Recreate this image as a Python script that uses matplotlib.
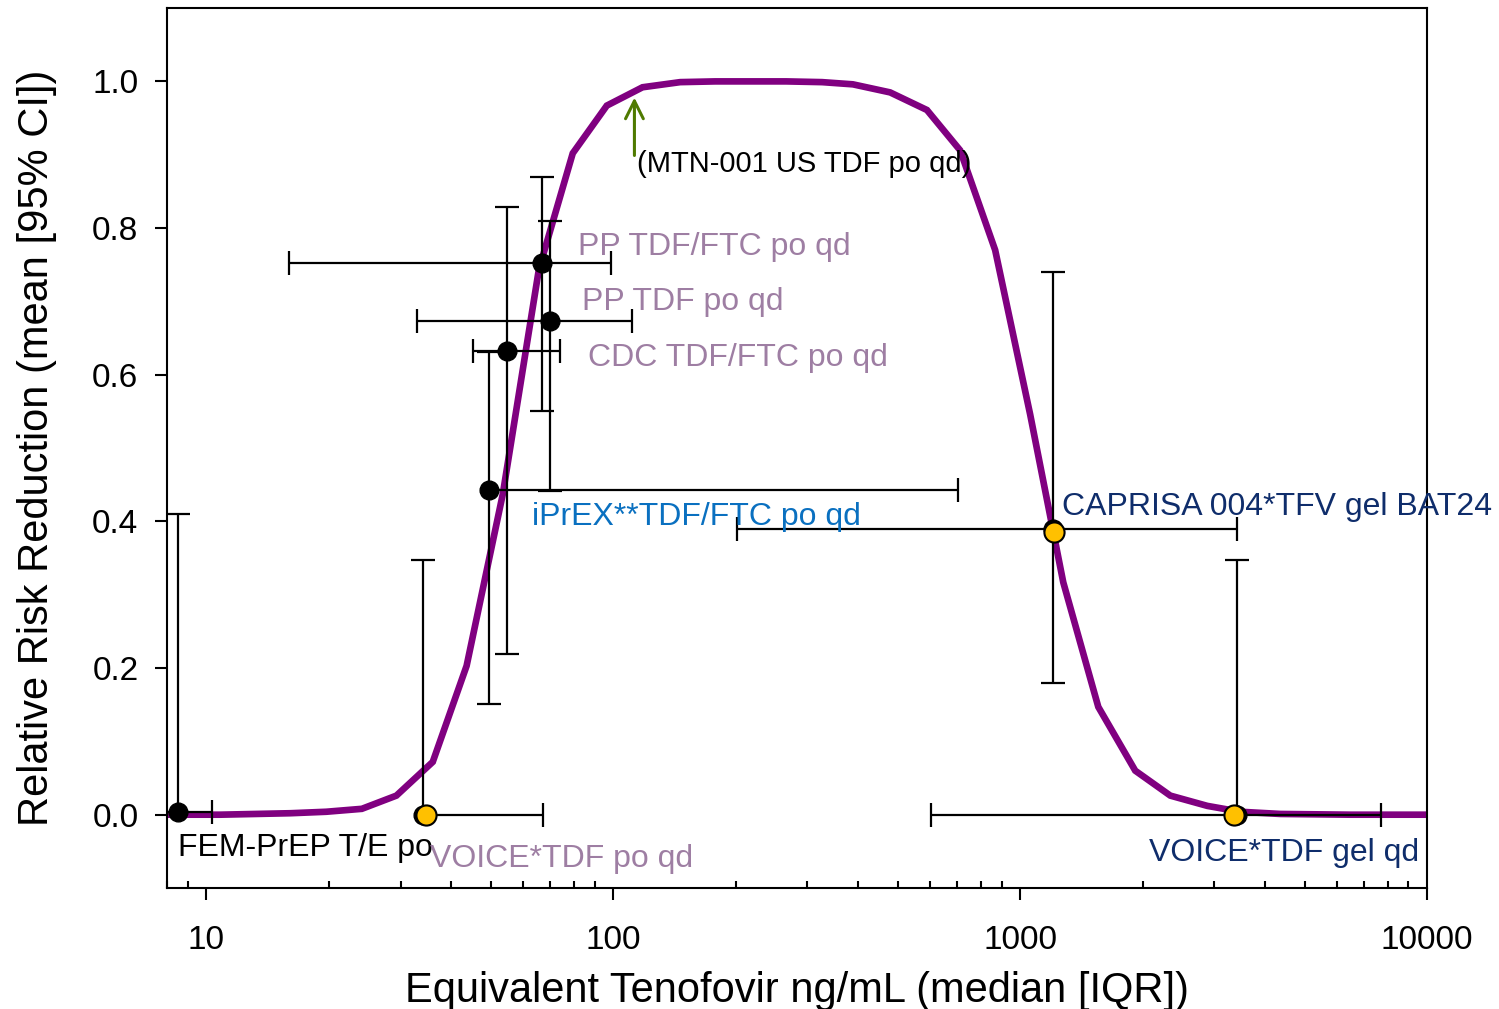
"""
plot.py

Reduccion de riesgo relativo frente a tenofovir equivalente (ng/mL),
curva ajustada + estudios clinicos (mediana [IQR], media [IC 95%]).
"""

import matplotlib
matplotlib.use("Agg")
import matplotlib.pyplot as plt
from matplotlib.ticker import LogLocator, NullFormatter

# ------------------------------------------------------------------
# Datos
# ------------------------------------------------------------------
CURVE_X = [8.0, 8.8, 10.8, 13.2, 16.1, 19.7, 24.1, 29.3, 36.0, 43.6, 53.5,
           65.6, 79.5, 96.4, 118, 146, 178, 218, 266, 326, 388, 479, 590,
           712, 868, 1058, 1276, 1556, 1918, 2339, 2884, 3477, 4362, 6483,
           10000]
CURVE_Y = [0.0, 0.0, 0.0, 0.001, 0.002, 0.004, 0.008, 0.026, 0.072, 0.203,
           0.437, 0.743, 0.902, 0.967, 0.992, 0.999, 1.0, 1.0, 1.0, 0.999,
           0.996, 0.985, 0.961, 0.906, 0.770, 0.546, 0.317, 0.147, 0.060,
           0.026, 0.012, 0.004, 0.001, 0.0, 0.0]

STUDIES = ["FEM-PrEP", "VOICE po", "iPrEX", "CDC", "PP TDF", "PP TDF/FTC",
           "CAPRISA", "VOICE gel"]
STUDY_X = [8.53, 34.0, 49.4, 54.7, 69.8, 66.7, 1206, 3418]
STUDY_Y = [0.003, 0.0, 0.443, 0.633, 0.673, 0.752, 0.390, 0.0]
IQR_LO = [7.5, 34.0, 49.4, 45.1, 32.9, 16.0, 201, 604]
IQR_HI = [10.35, 67.1, 704, 73.9, 111.1, 98.6, 3418, 7727]
CI_LO = [0.003, 0.0, 0.151, 0.219, 0.441, 0.550, 0.180, 0.0]
CI_HI = [0.41, 0.348, 0.631, 0.829, 0.810, 0.869, 0.740, 0.348]
# extremos que llevan tope
CAP_IQR_LO = [False, False, False, True, True, True, True, True]
CAP_IQR_HI = [True, True, True, True, True, True, True, True]
CAP_CI_LO = [False, False, True, True, True, True, True, False]
CAP_CI_HI = [True, True, True, True, True, True, True, True]

# puntos amarillos (VOICE po, CAPRISA, VOICE gel)
HIGHLIGHT_X = [34.6, 1212, 3361]
HIGHLIGHT_Y = [-0.001, 0.385, -0.001]

LABELS = ["(MTN-001 US TDF po qd)", "PP TDF/FTC po qd", "PP TDF po qd",
          "CDC TDF/FTC po qd", "iPrEX**TDF/FTC po qd",
          "CAPRISA 004*TFV gel BAT24", "VOICE*TDF gel qd",
          "FEM-PrEP T/E po", "VOICE*TDF po qd"]
LABEL_X = [114.6, 82.1, 83.9, 86.9, 63.2, 1268, 2074, 8.53, 35.5]
LABEL_Y = [0.887, 0.774, 0.699, 0.623, 0.406, 0.419, -0.052, -0.046, -0.060]
LABEL_SIZES = [21, 23, 23, 23, 23, 23, 23, 23, 23]
MAUVE = "#9e7ea3"
NAVY = "#0f2d6b"
LABEL_COLORS = ["black", MAUVE, MAUVE, MAUVE, "#0a70c0", NAVY, NAVY,
                "black", MAUVE]

# flecha MTN-001
ARROW_X = 112.7
ARROW_Y_TAIL = 0.899
ARROW_Y_TIP = 0.978

X_TICKS = [10, 100, 1000, 10000]
X_TICK_LABELS = ["10", "100", "1000", "10000"]
Y_TICKS = [0.0, 0.2, 0.4, 0.6, 0.8, 1.0]
Y_TICK_LABELS = ["0.0", "0.2", "0.4", "0.6", "0.8", "1.0"]

# ------------------------------------------------------------------
# Estilo
# ------------------------------------------------------------------
plt.rcParams["font.family"] = ["Liberation Sans", "DejaVu Sans"]
CAP_PT = 17
LW_BAR = 1.6


def dibujar():
    fig = plt.figure(figsize=(14.99, 10.09), dpi=100)
    ax = fig.add_axes([0.1114, 0.1199, 0.8406, 0.8721])

    ax.plot(CURVE_X, CURVE_Y, color="#800080", lw=4.8, zorder=2,
            solid_joinstyle="miter")

    # barras de error (sin topes), luego topes uno a uno
    for i in range(len(STUDIES)):
        x, y = STUDY_X[i], STUDY_Y[i]
        ax.errorbar(x, y,
                    xerr=[[x - IQR_LO[i]], [IQR_HI[i] - x]],
                    yerr=[[y - CI_LO[i]], [CI_HI[i] - y]],
                    fmt="none", ecolor="black", elinewidth=LW_BAR,
                    capsize=0, zorder=3)
        if CAP_IQR_LO[i]:
            ax.plot(IQR_LO[i], y, marker="|", ms=CAP_PT, mew=LW_BAR,
                    color="black", zorder=3, clip_on=False)
        if CAP_IQR_HI[i]:
            ax.plot(IQR_HI[i], y, marker="|", ms=CAP_PT, mew=LW_BAR,
                    color="black", zorder=3, clip_on=False)
        if CAP_CI_LO[i]:
            ax.plot(x, CI_LO[i], marker="_", ms=CAP_PT, mew=LW_BAR,
                    color="black", zorder=3, clip_on=False)
        if CAP_CI_HI[i]:
            ax.plot(x, CI_HI[i], marker="_", ms=CAP_PT, mew=LW_BAR,
                    color="black", zorder=3, clip_on=False)

    ax.plot(STUDY_X, STUDY_Y, "o", color="black", ms=13.5, zorder=4,
            clip_on=False)
    ax.plot(HIGHLIGHT_X, HIGHLIGHT_Y, "o", mfc="#ffc000", mec="black",
            mew=1.5, ms=14.5, zorder=5, clip_on=False)

    for txt, lx, ly, fs, c in zip(LABELS, LABEL_X, LABEL_Y, LABEL_SIZES,
                                  LABEL_COLORS):
        ax.text(lx, ly, txt, color=c, fontsize=fs, ha="left",
                va="center", zorder=6)

    ax.annotate("", xy=(ARROW_X, ARROW_Y_TIP), xytext=(ARROW_X, ARROW_Y_TAIL),
                arrowprops=dict(arrowstyle="->", color="#4f7a00", lw=2.2,
                                mutation_scale=32, shrinkA=0, shrinkB=0),
                zorder=6)

    # ejes
    ax.set_xscale("log")
    ax.set_xlim(8.0, 10000)
    ax.set_ylim(-0.1, 1.1)
    ax.set_xticks(X_TICKS)
    ax.set_xticklabels(X_TICK_LABELS)
    ax.xaxis.set_minor_locator(LogLocator(base=10, subs=range(2, 10)))
    ax.xaxis.set_minor_formatter(NullFormatter())
    ax.set_yticks(Y_TICKS)
    ax.set_yticklabels(Y_TICK_LABELS)

    ax.tick_params(axis="x", which="major", direction="out", length=8.6,
                   width=1.5, labelsize=24, pad=18)
    ax.tick_params(axis="x", which="minor", direction="in", length=5,
                   width=1.5)
    ax.tick_params(axis="y", which="major", direction="out", length=8.6,
                   width=1.5, labelsize=24, pad=12)
    for s in ax.spines.values():
        s.set_linewidth(1.5)

    ax.set_xlabel("Equivalent Tenofovir ng/mL (median [IQR])", fontsize=30,
                  labelpad=11)
    ax.set_ylabel("Relative Risk Reduction (mean [95% CI])", fontsize=30,
                  labelpad=25)

    fig.savefig("out.png", dpi=100)
    plt.close(fig)


if __name__ == "__main__":
    dibujar()
